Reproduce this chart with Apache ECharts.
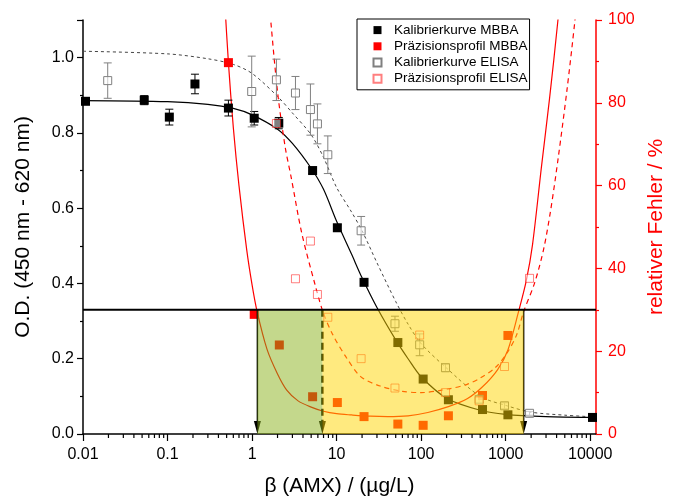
<!DOCTYPE html>
<html>
<head>
<meta charset="utf-8">
<title>Kalibrierkurve und Präzisionsprofil MBBA / ELISA</title>
<script src="https://cdn.jsdelivr.net/npm/echarts@6.0.0/dist/echarts.min.js"></script>
<style>
  html, body { margin: 0; padding: 0; background: #fff; }
  #chart { width: 674px; height: 502px; }
</style>
</head>
<body>
<div id="chart"></div>
<script>
// Kalibrierkurve MBBA (Messpunkte)
const mbbaConc = [0.0107, 0.053, 0.105, 0.211, 0.525, 1.06, 2.07, 5.2, 10.2, 21.1, 53, 105.6, 210, 532, 1062, 10640]
const mbbaOD = [0.884, 0.887, 0.842, 0.930, 0.866, 0.839, 0.826, 0.700, 0.548, 0.403, 0.243, 0.146, 0.091, 0.065, 0.051, 0.044]
const mbbaErr = [0, 0.012, 0.021, 0.026, 0.021, 0.018, 0.015, 0.008, 0.008, 0, 0, 0, 0, 0, 0, 0]

// Präzisionsprofil MBBA (Messpunkte, %)
const mbbaPrecConc = [0.525, 1.06, 2.1, 5.2, 10.2, 21.1, 53, 105.6, 210, 532, 1062]
const mbbaPrecErr = [89.7, 28.9, 21.5, 9.0, 7.6, 4.2, 2.4, 2.1, 4.4, 9.3, 23.8]

// Kalibrierkurve ELISA (Messpunkte)
const elisaConc = [0.0196, 0.99, 1.94, 3.26, 4.9, 5.93, 7.87, 19.5, 49, 96, 194, 485, 968, 1914]
const elisaOD = [0.939, 0.910, 0.941, 0.906, 0.862, 0.824, 0.742, 0.540, 0.293, 0.237, 0.176, 0.092, 0.075, 0.055]
const elisaErr = [0.047, 0.094, 0.055, 0.044, 0.068, 0.053, 0.05, 0.038, 0.02, 0.029, 0.01, 0.008, 0.008, 0.005]

// Präzisionsprofil ELISA (Messpunkte, %)
const elisaPrecConc = [1.94, 3.26, 4.9, 5.93, 7.87, 19.5, 49, 96, 194, 485, 968, 1914]
const elisaPrecErr = [75.0, 37.5, 46.6, 33.7, 28.2, 18.2, 11.1, 23.9, 10.0, 8.0, 16.3, 37.6]

// Fitkurven
const mbbaFitConc = [0.01, 0.1, 0.3, 0.6, 1, 2, 3, 5, 7, 10, 15, 20, 30, 50, 70, 100, 200, 500, 1000, 3000, 10000]
const mbbaFitOD = [0.886, 0.883, 0.876, 0.865, 0.848, 0.810, 0.772, 0.706, 0.650, 0.565, 0.478, 0.415, 0.336, 0.250, 0.200, 0.152, 0.095, 0.063, 0.052, 0.046, 0.044]

const elisaFitConc = [0.01, 0.1, 0.3, 0.6, 1, 2, 3, 5, 7, 10, 15, 20, 30, 50, 70, 100, 200, 500, 1000, 2000, 5000, 10000]
const elisaFitOD = [1.017, 1.010, 0.997, 0.982, 0.958, 0.897, 0.853, 0.795, 0.735, 0.655, 0.590, 0.540, 0.455, 0.352, 0.292, 0.240, 0.175, 0.100, 0.076, 0.058, 0.050, 0.046]

const mbbaPrecFitConc = [0.47, 0.525, 0.6, 0.7, 0.865, 1.0, 1.14, 1.5, 2, 2.57, 3.5, 5, 7, 10, 15, 25, 40, 70, 120, 210, 350, 532, 800, 1062, 1416, 1750, 2075, 2650, 3300, 4150, 4400]
const mbbaPrecFitErr = [106, 89.7, 74, 60, 44.4, 36, 29.8, 20.5, 14.5, 10.6, 8, 6.5, 5.5, 4.9, 4.6, 4.3, 4.2, 4.4, 5.2, 6.6, 8.5, 11.4, 15.5, 20.3, 29.5, 37, 45.7, 64.6, 81, 100, 107]

const elisaPrecFitConc = [1.55, 1.66, 2.01, 2.46, 2.9, 3.87, 5.57, 6.9, 9, 13.2, 19.4, 32.7, 60, 100, 201, 350, 499, 750, 1033, 1350, 1626, 2200, 2800, 3400, 4200, 5300, 6600, 7000]
const elisaPrecFitErr = [108, 100, 82.3, 69.4, 62, 48.5, 36, 29.5, 24, 18.3, 13.8, 11.6, 10.3, 10, 10.8, 12, 13.5, 16, 19.5, 24, 29.5, 36.5, 44.5, 54, 67, 83, 100, 106]

// Grenzwert 30 % und Arbeitsbereiche (Konzentrationsgrenzen)
const cutoffErr = 30
const zoneFrom = [1.156, 6.79]
const zoneTo = [6.79, 1630]
const arrowConc = [1.156, 6.79, 1630]
const arrowDashed = [0, 1, 0]

const xMin = 0.01
const xMax = 11700
const minorSteps = [2, 3, 4, 5, 6, 7, 8, 9]

const FONT = 'Liberation Sans, Arial, sans-serif'
const zoneColors = ['rgba(137, 177, 25, 0.5)', 'rgba(255, 213, 0, 0.5)']

const zip = (xs, ys) => xs.map((x, i) => [x, ys[i]])

const minorTicks = []
for (let d = -2; d <= 4; d++) {
  minorSteps.forEach(m => {
    const v = m * Math.pow(10, d)
    if (v > xMin && v < xMax) minorTicks.push([v, 0])
  })
}

const errorBarData = (xs, ys, es) => xs.map((x, i) => [x, ys[i], es[i]]).filter(d => d[2] > 0)

const errorBarSeries = (data, color) => ({
  type: 'custom',
  yAxisIndex: 0,
  z: 3,
  data,
  encode: { x: 0, y: 1 },
  renderItem: (params, api) => {
    const x = api.value(0), y = api.value(1), e = api.value(2)
    const hi = api.coord([x, y + e])
    const lo = api.coord([x, y - e])
    const w = 4
    const st = { stroke: color, lineWidth: 1 }
    return {
      type: 'group',
      children: [
        { type: 'line', shape: { x1: hi[0], y1: hi[1], x2: lo[0], y2: lo[1] }, style: st },
        { type: 'line', shape: { x1: hi[0] - w, y1: hi[1], x2: hi[0] + w, y2: hi[1] }, style: st },
        { type: 'line', shape: { x1: lo[0] - w, y1: lo[1], x2: lo[0] + w, y2: lo[1] }, style: st }
      ]
    }
  }
})

const chart = echarts.init(document.getElementById('chart'))

chart.setOption({
  animation: false,
  backgroundColor: '#fff',
  textStyle: { fontFamily: FONT },
  grid: { left: 83, right: 78, top: 20, bottom: 68, outerBoundsMode: 'none' },
  legend: {
    data: ['Kalibrierkurve MBBA', 'Präzisionsprofil MBBA', 'Kalibrierkurve ELISA', 'Präzisionsprofil ELISA'],
    orient: 'vertical',
    left: 357,
    top: 19,
    padding: [3, 2, 3, 15.5],
    itemWidth: 8,
    itemHeight: 8,
    itemGap: 0,
    borderColor: '#000',
    borderWidth: 1,
    backgroundColor: '#fff',
    textStyle: { fontFamily: FONT, fontSize: 13.5, color: '#000', lineHeight: 16.2, padding: [0, 0, 0, 7.5] }
  },
  xAxis: {
    type: 'log',
    logBase: 10,
    min: xMin,
    max: xMax,
    name: 'β (AMX) / (µg/L)',
    nameLocation: 'middle',
    nameGap: 42,
    nameTextStyle: { fontFamily: FONT, fontSize: 21, color: '#000' },
    axisLine: { lineStyle: { color: '#000', width: 1.5 } },
    axisTick: { inside: false, length: 7, lineStyle: { color: '#000', width: 1.2 } },
    axisLabel: {
      fontFamily: FONT, fontSize: 16, color: '#000', margin: 13, showMaxLabel: false,
      formatter: v => {
        const e = Math.round(Math.log10(v))
        return e < 0 ? v.toFixed(-e) : String(Math.round(v))
      }
    },
    splitLine: { show: false }
  },
  yAxis: [
    {
      type: 'value',
      min: 0,
      max: 1.1,
      interval: 0.2,
      name: 'O.D. (450 nm - 620 nm)',
      nameLocation: 'middle',
      nameRotate: 90,
      nameGap: 49,
      nameTextStyle: { fontFamily: FONT, fontSize: 21, color: '#000' },
      axisLine: { show: true, lineStyle: { color: '#000', width: 1.5 } },
      axisTick: { show: true, inside: false, length: 6, lineStyle: { color: '#000', width: 1.2 } },
      minorTick: { show: true, splitNumber: 2, length: 3, lineStyle: { color: '#000', width: 1.2 } },
      axisLabel: { fontFamily: FONT, fontSize: 16, color: '#000', margin: 9, showMaxLabel: false, formatter: v => v.toFixed(1) },
      splitLine: { show: false }
    },
    {
      type: 'value',
      position: 'right',
      min: 0,
      max: 100,
      interval: 20,
      name: 'relativer Fehler / %',
      nameLocation: 'middle',
      nameRotate: 90,
      nameGap: 48,
      nameTextStyle: { fontFamily: FONT, fontSize: 21, color: '#ff0000' },
      axisLine: { show: true, lineStyle: { color: '#ff0000', width: 1.5 } },
      axisTick: { show: true, inside: false, length: 6, lineStyle: { color: '#ff0000', width: 1.2 } },
      minorTick: { show: true, splitNumber: 2, length: 3, lineStyle: { color: '#ff0000', width: 1.2 } },
      axisLabel: { fontFamily: FONT, fontSize: 16, color: '#ff0000', margin: 12 },
      splitLine: { show: false }
    }
  ],
  series: [
    // kleine Striche der log-Achse
    {
      type: 'custom',
      data: minorTicks,
      clip: false,
      silent: true,
      z: 1,
      encode: { x: 0, y: 1 },
      renderItem: (params, api) => {
        const p = api.coord([api.value(0), 0])
        return { type: 'line', shape: { x1: p[0], y1: p[1], x2: p[0], y2: p[1] + 4 }, style: { stroke: '#000', lineWidth: 1.2 } }
      }
    },
    // Fitkurven
    {
      type: 'line', yAxisIndex: 0, data: zip(mbbaFitConc, mbbaFitOD), smooth: 0.3,
      showSymbol: false, symbol: 'none', z: 2,
      lineStyle: { color: '#000', width: 1.2 }
    },
    {
      type: 'line', yAxisIndex: 0, data: zip(elisaFitConc, elisaFitOD), smooth: 0.3,
      showSymbol: false, symbol: 'none', z: 2,
      lineStyle: { color: '#444', width: 1, type: [3, 3] }
    },
    {
      type: 'line', yAxisIndex: 1, data: zip(mbbaPrecFitConc, mbbaPrecFitErr), smooth: 0.3,
      showSymbol: false, symbol: 'none', z: 2,
      lineStyle: { color: '#ff0000', width: 1.2 }
    },
    {
      type: 'line', yAxisIndex: 1, data: zip(elisaPrecFitConc, elisaPrecFitErr), smooth: 0.3,
      showSymbol: false, symbol: 'none', z: 2,
      lineStyle: { color: '#ff0000', width: 1.2, type: [5, 4] }
    },
    // Fehlerbalken
    errorBarSeries(errorBarData(mbbaConc, mbbaOD, mbbaErr), '#000'),
    errorBarSeries(errorBarData(elisaConc, elisaOD, elisaErr), '#808080'),
    // Messpunkte
    {
      name: 'Kalibrierkurve MBBA', type: 'scatter', yAxisIndex: 0, z: 4,
      data: zip(mbbaConc, mbbaOD), symbol: 'rect', symbolSize: 9,
      itemStyle: { color: '#000', opacity: 1 }
    },
    {
      name: 'Präzisionsprofil MBBA', type: 'scatter', yAxisIndex: 1, z: 4,
      data: zip(mbbaPrecConc, mbbaPrecErr), symbol: 'rect', symbolSize: 9,
      itemStyle: { color: '#ff0000', opacity: 1 }
    },
    {
      name: 'Kalibrierkurve ELISA', type: 'scatter', yAxisIndex: 0, z: 4,
      data: zip(elisaConc, elisaOD), symbol: 'rect', symbolSize: 8,
      itemStyle: { color: 'rgba(255,255,255,0.6)', borderColor: '#808080', borderWidth: 1, opacity: 1 }
    },
    {
      name: 'Präzisionsprofil ELISA', type: 'scatter', yAxisIndex: 1, z: 4,
      data: zip(elisaPrecConc, elisaPrecErr), symbol: 'rect', symbolSize: 8,
      itemStyle: { color: 'rgba(255,255,255,0.5)', borderColor: 'rgba(255,0,0,0.5)', borderWidth: 1, opacity: 1 }
    },
    // Pfeile an den Bereichsgrenzen
    {
      type: 'custom', yAxisIndex: 1, z: 5, silent: true,
      data: arrowConc.map((x, i) => [x, cutoffErr, arrowDashed[i]]),
      encode: { x: 0, y: 1 },
      renderItem: (params, api) => {
        const top = api.coord([api.value(0), api.value(1)])
        const bot = api.coord([api.value(0), 0])
        const dashed = api.value(2) === 1
        return {
          type: 'group',
          children: [
            {
              type: 'line',
              shape: { x1: top[0], y1: top[1], x2: bot[0], y2: bot[1] - 10 },
              style: { stroke: '#000', lineWidth: dashed ? 2.5 : 1.5, lineDash: dashed ? [7, 4] : null }
            },
            {
              type: 'polygon',
              shape: { points: [[bot[0] - 3.5, bot[1] - 13], [bot[0] + 3.5, bot[1] - 13], [bot[0], bot[1]]] },
              style: { fill: '#000' }
            }
          ]
        }
      }
    },
    // halbtransparente Arbeitsbereiche
    {
      type: 'custom', yAxisIndex: 1, z: 10, silent: true,
      data: zoneFrom.map((x, i) => [x, 0, zoneTo[i], cutoffErr]),
      encode: { x: [0, 2], y: [1, 3] },
      renderItem: (params, api) => {
        const p0 = api.coord([api.value(0), api.value(1)])
        const p1 = api.coord([api.value(2), api.value(3)])
        return {
          type: 'rect',
          shape: { x: p0[0], y: p1[1], width: p1[0] - p0[0], height: p0[1] - p1[1] },
          style: { fill: zoneColors[params.dataIndex] }
        }
      }
    },
    // 30 %-Grenze
    {
      type: 'line', yAxisIndex: 1, z: 11, silent: true,
      data: [[xMin, cutoffErr], [xMax, cutoffErr]],
      showSymbol: false, symbol: 'none',
      lineStyle: { color: '#000', width: 2 }
    }
  ]
})
</script>
</body>
</html>
